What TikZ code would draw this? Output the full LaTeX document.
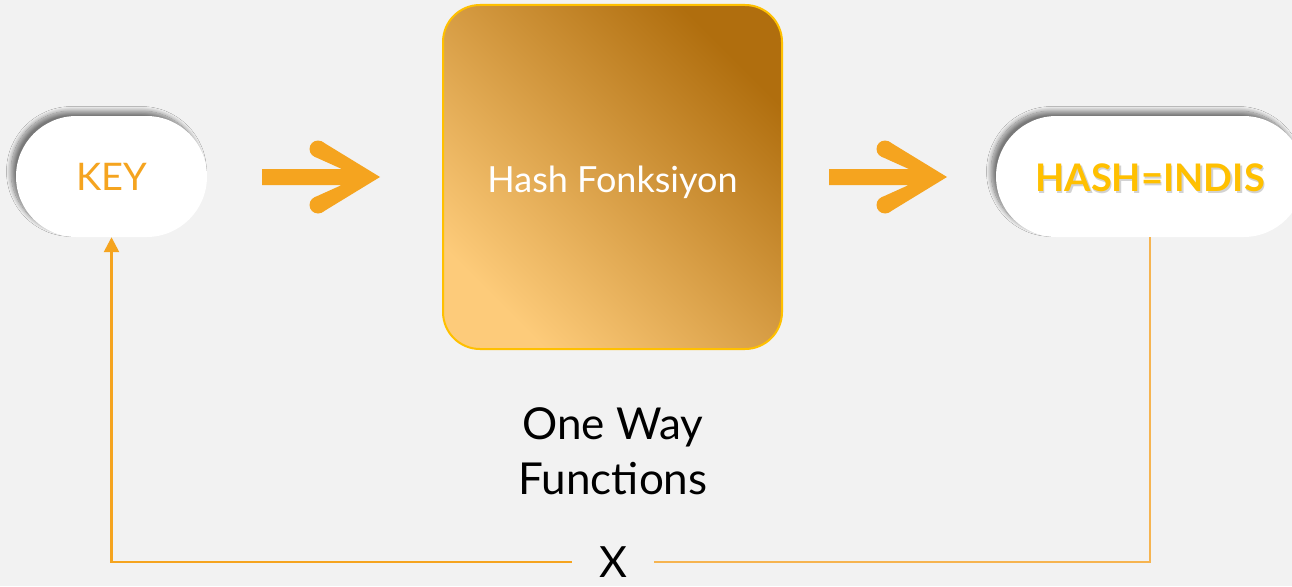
\documentclass[tikz,border=0pt]{standalone}
\usepackage{fontspec}
\setmainfont{Lato}
\usetikzlibrary{shadows.blur,arrows.meta}
\definecolor{bg}{HTML}{F2F2F2}
\definecolor{orng}{HTML}{F5A41F}
\definecolor{orngl}{HTML}{F6B450}
\definecolor{gold}{HTML}{FFC000}
\definecolor{gradlo}{HTML}{FDCB7A}
\definecolor{gradhi}{HTML}{B06E0E}
\tikzset{
  pill/.style={fill=white, rounded corners=60.5pt, minimum height=121pt, inner sep=0pt,
    blur shadow={shadow xshift=-5pt, shadow yshift=5pt, shadow blur radius=4.5pt, shadow blur steps=12, shadow opacity=50}},
  hashbox/.style={draw=gold, line width=2pt, rounded corners=37pt, minimum width=339pt, minimum height=344pt,
    inner sep=0pt, top color=gradhi, bottom color=gradlo, shading angle=-45},
  bigtext/.style={font=\fontsize{44}{50}\selectfont, text=black, inner sep=0pt},
  fbleft/.style={draw=orng, line width=2.6pt, -{Triangle[width=15pt,length=15pt]}},
  fbright/.style={draw=orngl, line width=1.6pt},
  bigarrow/.pic={
    \fill[orng] (-118,-8) -- (-38.2,-8) -- (-65.5,-20.3) -- (-58.5,-35.7) -- (0,0)
      -- (-58.5,35.7) -- (-65.5,20.3) -- (-38.2,8) -- (-118,8) -- cycle;
    \fill[orng] (-62,-28) circle (8.5pt);
    \fill[orng] (-62,28) circle (8.5pt);
  }
}
\begin{document}
\begin{tikzpicture}[x=1pt,y=-1pt]
\useasboundingbox (0,0) rectangle (1292,586);
\fill[bg] (0,0) rectangle (1292,586);

\node[pill, minimum width=191pt, text=orng, font=\fontsize{38}{42}\selectfont] (key) at (111.5,176.5) {KEY};
\node[pill, minimum width=308pt] (hash) at (1150,176.5) {};
\node[text=black!50, opacity=0.35, font=\fontsize{38}{42}\selectfont\bfseries, inner sep=0pt] (hashsh) at (1151.5,179.5) {HASH=INDIS};
\node[text=gold, font=\fontsize{38}{42}\selectfont\bfseries, inner sep=0pt] (hasht) at (1150,178) {HASH=INDIS};

\node[hashbox] (hf) at (612.5,177) {};
\node[text=white, font=\fontsize{36}{40}\selectfont, anchor=base, inner sep=0pt] (hft) at (612.5,192) {Hash Fonksiyon};

\pic at (380,177) {bigarrow};
\pic at (947,177) {bigarrow};

\node[bigtext, anchor=base] (owf1) at (613,439) {One Way};
\node[bigtext, anchor=base] (owf2) at (613,494) {Functions};

\node[bigtext, font=\fontsize{43}{48}\selectfont, inner xsep=27pt] (xx) at (613,562) {X};

\draw[fbright] (hash.south) |- (xx.east);
\draw[fbleft] (xx.west) -| (key.south);
\end{tikzpicture}
\end{document}
